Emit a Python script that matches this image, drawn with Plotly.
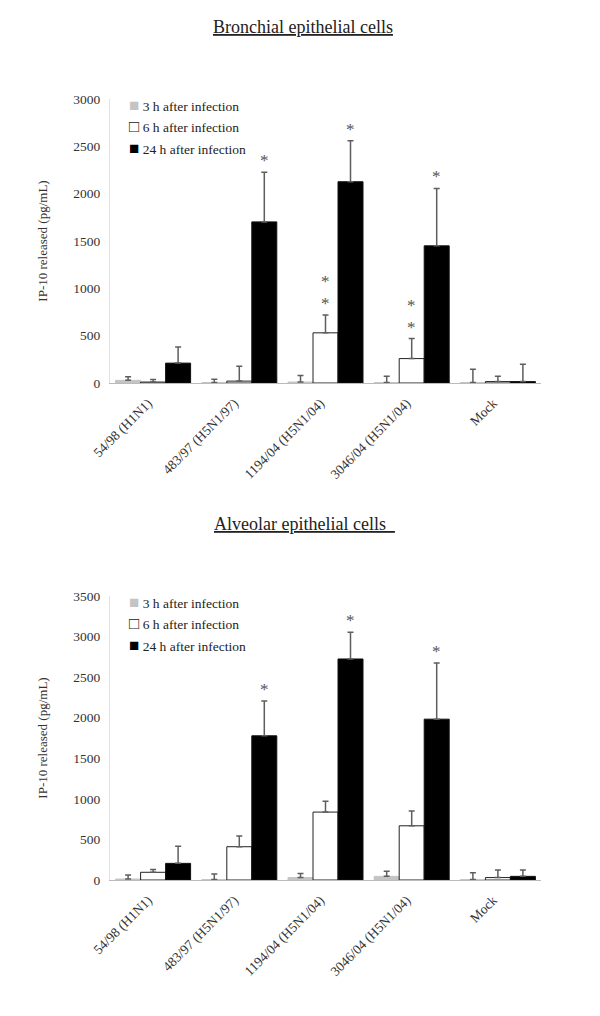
import plotly.graph_objects as go

categories = ["54/98 (H1N1)", "483/97 (H5N1/97)", "1194/04 (H5N1/04)", "3046/04 (H5N1/04)", "Mock"]
series_names = ["3 h after infection", "6 h after infection", "24 h after infection"]

# Bronchial epithelial cells
bron_3h = [28, 5, 10, 5, 5]
bron_3h_err = [38, 35, 70, 65, 140]
bron_6h = [10, 20, 530, 258, 15]
bron_6h_err = [28, 157, 187, 211, 55]
bron_24h = [210, 1702, 2126, 1449, 15]
bron_24h_err = [170, 523, 433, 606, 183]
bron_sig_6h = ["", "", "**", "**", ""]
bron_sig_24h = ["", "*", "*", "*", ""]

# Alveolar epithelial cells
alv_3h = [12, 5, 30, 45, 5]
alv_3h_err = [50, 70, 50, 62, 85]
alv_6h = [95, 410, 837, 668, 30]
alv_6h_err = [35, 132, 135, 181, 93]
alv_24h = [205, 1777, 2724, 1982, 45]
alv_24h_err = [212, 430, 329, 693, 78]
alv_sig_6h = ["", "", "", "", ""]
alv_sig_24h = ["", "*", "*", "*", ""]

top_ticks = [0, 500, 1000, 1500, 2000, 2500, 3000]
bot_ticks = [0, 500, 1000, 1500, 2000, 2500, 3000, 3500]

# page body has an 8px margin: figure coordinates = target coordinates - 8
OFF = 8
W, H = 584, 1000
ML = 110 - OFF
MR = W - (541 - OFF)
FONT = "Liberation Serif, Times New Roman, serif"
BARGAP = 0.13
fills = ["#c4c4c4", "#ffffff", "#000000"]
lines = ["#c4c4c4", "#222222", "#111111"]
glyph = ['<span style="color:#c4c4c4;font-size:17px">■</span>',
         '<span style="color:#222222;font-size:17px">□</span>',
         '<span style="color:#000000;font-size:17px">■</span>']

fig = go.Figure()
xs = list(range(len(categories)))

def add_panel(vals, errs, xa, ya, legend):
    for j, (v, e) in enumerate(zip(vals, errs)):
        fig.add_trace(go.Bar(
            x=xs, y=v, xaxis=xa, yaxis=ya, name=series_names[j], showlegend=False,
            marker=dict(color=fills[j], line=dict(color=lines[j], width=1)),
            error_y=dict(type="data", symmetric=False, array=e, arrayminus=[0] * len(e),
                         color="#5e5e5e", thickness=1.5, width=3),
            offsetgroup=str(j),
        ))
        fig.add_trace(go.Scatter(
            x=[None], y=[None], xaxis=xa, yaxis=ya, mode="markers",
            name=glyph[j] + " " + series_names[j], legend=legend, showlegend=True,
            legendgroup=legend + str(j),
            marker=dict(symbol="square", size=1, color="rgba(0,0,0,0)", line=dict(width=0)),
        ))

add_panel([bron_3h, bron_6h, bron_24h], [bron_3h_err, bron_6h_err, bron_24h_err], "x", "y", "legend")
add_panel([alv_3h, alv_6h, alv_24h], [alv_3h_err, alv_6h_err, alv_24h_err], "x2", "y2", "legend2")

bw = (1 - BARGAP) / 3

def add_stars(vals, errs, sigs, j, xa, ya):
    for i, s in enumerate(sigs):
        if not s:
            continue
        fig.add_annotation(
            x=i + (j - 1) * bw, y=vals[i] + errs[i], xref=xa, yref=ya,
            text="<br>".join(list(s)), showarrow=False, yanchor="bottom", xanchor="center",
            yshift=0,
            font=dict(family=FONT, size=17, color="#555555"),
        )

add_stars(bron_6h, bron_6h_err, bron_sig_6h, 1, "x", "y")
add_stars(bron_24h, bron_24h_err, bron_sig_24h, 2, "x", "y")
add_stars(alv_6h, alv_6h_err, alv_sig_6h, 1, "x2", "y2")
add_stars(alv_24h, alv_24h_err, alv_sig_24h, 2, "x2", "y2")

def py(ref_px):
    return (H - (ref_px - OFF)) / H

def px(ref_px):
    return (ref_px - OFF - ML) / (W - ML - MR)

xcommon = dict(
    range=[-0.5, 4.5], tickvals=xs, ticktext=categories, tickangle=-45,
    tickfont=dict(family=FONT, size=13.5, color="#333333"), showgrid=False, zeroline=False,
    showline=True, linecolor="#bbbbbb", linewidth=1, ticks="", ticklabelstandoff=6,
    ticklabelshift=-5, automargin=False, domain=[0, 1],
)
ycommon = dict(
    tickfont=dict(family=FONT, size=13.5, color="#333333"), showgrid=False, zeroline=False,
    showline=True, linecolor="#e2e2e2", linewidth=1, ticks="", ticklabelstandoff=6,
    automargin=False,
    title=dict(text="IP-10 released (pg/mL)", font=dict(family=FONT, size=13, color="#333333"), standoff=22),
)
legcommon = dict(xanchor="left", yanchor="top", bgcolor="rgba(0,0,0,0)",
                 font=dict(family=FONT, size=13.5, color="#222222"),
                 tracegroupgap=1, itemwidth=30)

fig.update_layout(
    width=W, height=H, margin=dict(l=ML, r=MR, t=0, b=0),
    paper_bgcolor="white", plot_bgcolor="white",
    barmode="group", bargap=BARGAP, bargroupgap=0,
    xaxis=dict(xcommon, anchor="y"),
    xaxis2=dict(xcommon, anchor="y2"),
    yaxis=dict(ycommon, range=[0, 3000], tickvals=top_ticks, anchor="x",
               domain=[py(383), py(99)]),
    yaxis2=dict(ycommon, range=[0, 3500], tickvals=bot_ticks, anchor="x2",
                domain=[py(880), py(596)]),
    legend=dict(legcommon, x=px(89), y=py(90)),
    legend2=dict(legcommon, x=px(89), y=py(587)),
    showlegend=True,
)

fig.add_annotation(text="<u>Bronchial epithelial cells</u>", xref="paper", yref="paper",
                   x=px(303), y=py(27), xanchor="center", yanchor="middle", showarrow=False,
                   font=dict(family=FONT, size=18, color="#222222"))
fig.add_annotation(text="<u>Alveolar epithelial cells\u00a0\u00a0</u>", xref="paper", yref="paper",
                   x=px(304), y=py(524), xanchor="center", yanchor="middle", showarrow=False,
                   font=dict(family=FONT, size=18, color="#222222"))

fig.write_html("out.html")
